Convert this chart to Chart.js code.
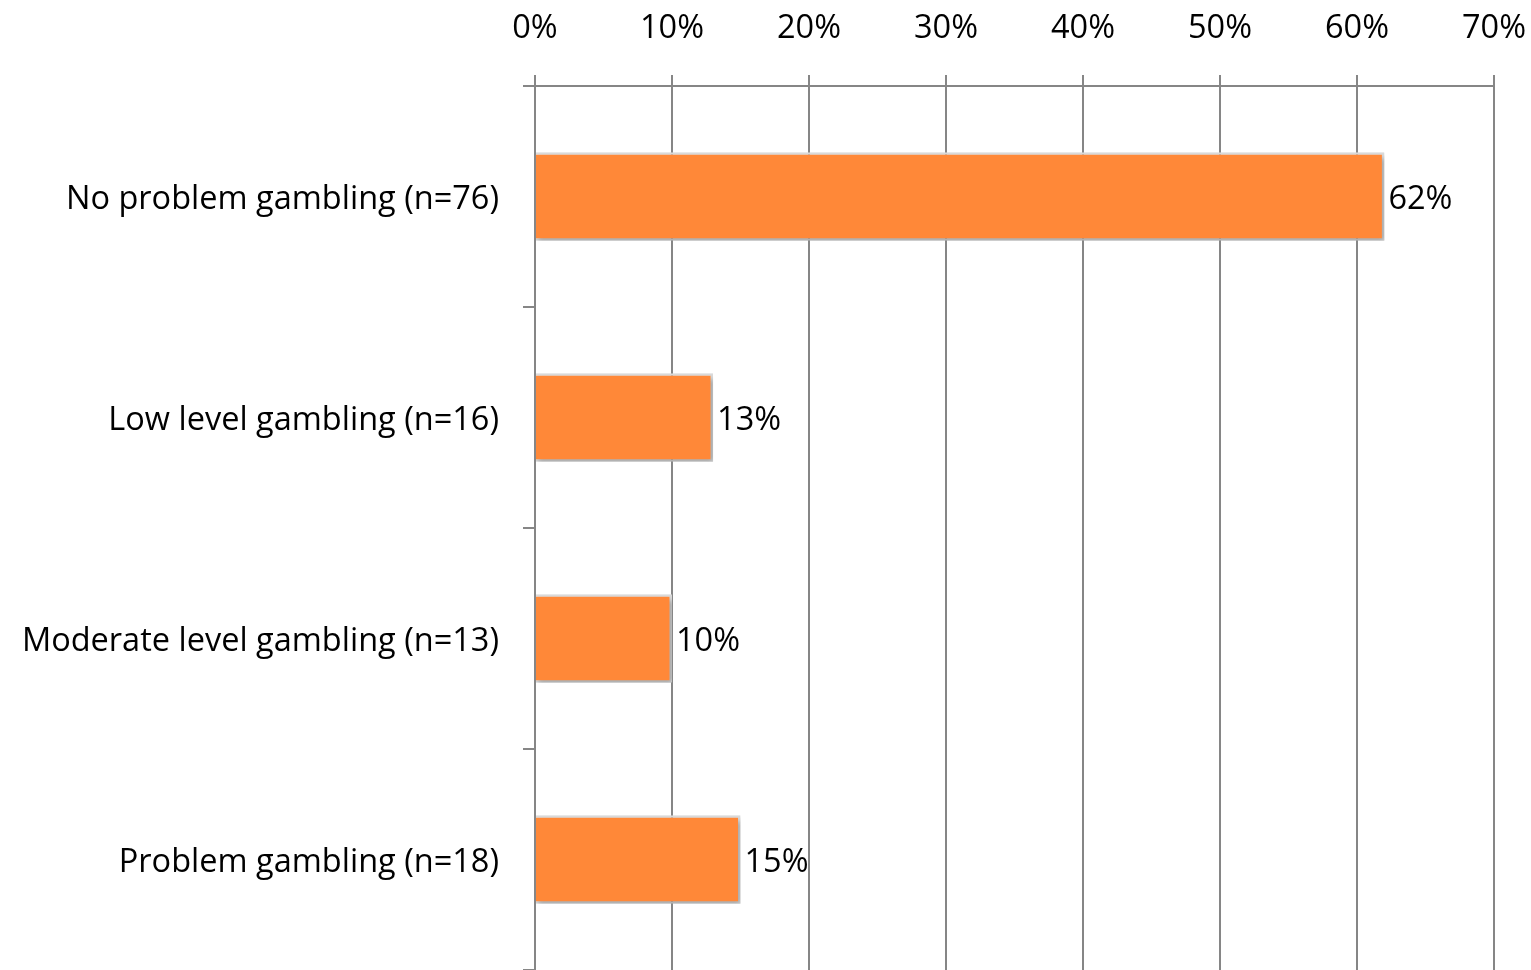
<!DOCTYPE html>
<html>
<head>
<meta charset="utf-8">
<title>Gambling severity</title>
<script src="https://cdn.jsdelivr.net/npm/chart.js@4.4.1/dist/chart.umd.min.js"></script>
<style>
  html, body { margin: 0; padding: 0; background: #ffffff; }
  #wrap { width: 1531px; height: 970px; position: relative; }
</style>
</head>
<body>
<div id="wrap"><canvas id="chart"></canvas></div>
<script>
// Share of respondents in each gambling-severity group
const categories = [
  'No problem gambling (n=76)',
  'Low level gambling (n=16)',
  'Moderate level gambling (n=13)',
  'Problem gambling (n=18)'
];
const percentages = [62, 13, 10, 15];
const tickValues = [0, 10, 20, 30, 40, 50, 60, 70];

const FONT = '"Open Sans", "Liberation Sans", sans-serif';
const FONT_SIZE = 32.5;
const GRID = '#868686';

// Soft drop shadow under the bars
const barShadow = {
  id: 'barShadow',
  beforeDatasetsDraw(chart) {
    const ctx = chart.ctx;
    ctx.save();
    ctx.shadowColor = 'rgba(0,0,0,0.28)';
    ctx.shadowBlur = 5;
    ctx.shadowOffsetX = 2;
    ctx.shadowOffsetY = 3;
  },
  afterDatasetsDraw(chart) {
    chart.ctx.restore();
  }
};

// Percentage labels at the end of each bar
const valueLabels = {
  id: 'valueLabels',
  afterDatasetsDraw(chart) {
    const ctx = chart.ctx;
    const meta = chart.getDatasetMeta(0);
    const values = chart.data.datasets[0].data;
    ctx.save();
    ctx.font = FONT_SIZE + 'px ' + FONT;
    ctx.fillStyle = '#000000';
    ctx.textAlign = 'left';
    ctx.textBaseline = 'middle';
    meta.data.forEach((bar, i) => {
      ctx.fillText(values[i] + '%', bar.x + 4, bar.y + 3);
    });
    ctx.restore();
  }
};

new Chart(document.getElementById('chart'), {
  type: 'bar',
  data: {
    labels: categories,
    datasets: [{
      data: percentages,
      backgroundColor: '#FF8838',
      borderColor: '#DADADA',
      borderWidth: 2.5,
      categoryPercentage: 0.8,
      barPercentage: 0.5
    }]
  },
  options: {
    indexAxis: 'y',
    responsive: true,
    maintainAspectRatio: false,
    animation: false,
    layout: { padding: { top: 0, right: 37, bottom: 0, left: 0 } },
    plugins: {
      legend: { display: false },
      tooltip: { enabled: false }
    },
    scales: {
      x: {
        position: 'top',
        min: 0,
        max: 70,
        afterBuildTicks(scale) {
          scale.ticks = tickValues.map(v => ({ value: v }));
        },
        afterFit(scale) {
          scale.height = 86;
          scale.paddingLeft = 0;
          scale.paddingRight = 0;
        },
        ticks: {
          callback: v => v + '%',
          color: '#000000',
          font: { family: FONT, size: FONT_SIZE },
          padding: 27,
          maxRotation: 0
        },
        grid: {
          color: GRID,
          lineWidth: 2,
          tickLength: 11,
          drawOnChartArea: true
        },
        border: { color: GRID, width: 2 }
      },
      y: {
        afterFit(scale) {
          scale.width = 535;
          scale.paddingTop = 0;
          scale.paddingBottom = 0;
        },
        ticks: {
          color: '#000000',
          font: { family: FONT, size: FONT_SIZE },
          padding: 24,
          labelOffset: 3
        },
        grid: {
          offset: true,
          drawOnChartArea: false,
          color: GRID,
          lineWidth: 2,
          tickLength: 12
        },
        border: { color: GRID, width: 2 }
      }
    }
  },
  plugins: [barShadow, valueLabels]
});
</script>
</body>
</html>
